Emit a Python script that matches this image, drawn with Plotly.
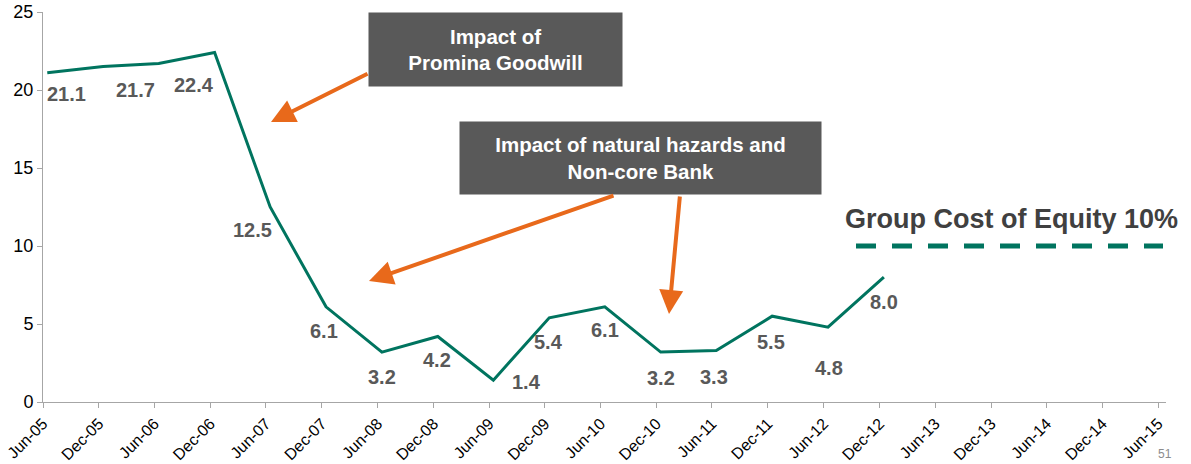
import plotly.graph_objects as go

tick_dates = ["2005-06-01", "2005-12-01", "2006-06-01", "2006-12-01", "2007-06-01", "2007-12-01",
              "2008-06-01", "2008-12-01", "2009-06-01", "2009-12-01", "2010-06-01", "2010-12-01",
              "2011-06-01", "2011-12-01", "2012-06-01", "2012-12-01", "2013-06-01", "2013-12-01",
              "2014-06-01", "2014-12-01", "2015-06-01"]
tick_labels = ["Jun-05", "Dec-05", "Jun-06", "Dec-06", "Jun-07", "Dec-07", "Jun-08", "Dec-08",
               "Jun-09", "Dec-09", "Jun-10", "Dec-10", "Jun-11", "Dec-11", "Jun-12", "Dec-12",
               "Jun-13", "Dec-13", "Jun-14", "Dec-14", "Jun-15"]
period_dates = ["2005-06-15", "2005-12-15", "2006-06-15", "2006-12-15", "2007-06-15", "2007-12-15",
                "2008-06-15", "2008-12-15", "2009-06-15", "2009-12-15", "2010-06-15", "2010-12-15",
                "2011-06-15", "2011-12-15", "2012-06-15", "2012-12-15"]
roe_values = [21.1, 21.5, 21.7, 22.4, 12.5, 6.1, 3.2, 4.2, 1.4, 5.4, 6.1, 3.2, 3.3, 5.5, 4.8, 8.0]
label_text = ["21.1", "", "21.7", "22.4", "12.5", "6.1", "3.2", "4.2", "1.4", "5.4", "6.1",
              "3.2", "3.3", "5.5", "4.8", "8.0"]
cost_of_equity = 10

TEAL = "#00745F"
ORANGE = "#E8691B"
BOX = "#595959"
LABEL = "#595959"
FONT = "Liberation Sans, Arial, sans-serif"

label_shift = [(19, -21), (0, 0), (-23, -27), (-21, -32), (-18, -23), (-2, -24), (0, -25),
               (-1, -24), (33, -2), (-1, -24), (0, -23), (0, -26), (-2, -26), (-1, -26),
               (1, -41), (0, -25)]

W, H = 1191, 464
L, R, T, B = 43, 25, 12, 62
pw, ph = W - L - R, H - T - B


def px(x):
    return (x - L) / pw


def py(y):
    return 1 - (y - T) / ph


fig = go.Figure()
fig.add_trace(go.Scatter(x=period_dates, y=roe_values, mode="lines",
                         line=dict(color=TEAL, width=3), hoverinfo="skip", showlegend=False))

for d, v, t, (dx, dy) in zip(period_dates, roe_values, label_text, label_shift):
    if t:
        fig.add_annotation(x=d, y=v, text="<b>%s</b>" % t, showarrow=False, xshift=dx, yshift=dy,
                           xanchor="center", yanchor="middle",
                           font=dict(family=FONT, size=20, color=LABEL))

# cost of equity dashed line
fig.add_shape(type="line", xref="paper", yref="y", x0=px(856), x1=px(1163),
              y0=cost_of_equity, y1=cost_of_equity,
              line=dict(color=TEAL, width=5, dash="20px,16px"))
fig.add_annotation(xref="paper", yref="y", x=px(1011), y=cost_of_equity, yshift=27,
                   xanchor="center", yanchor="middle",
                   text="<b>Group Cost of Equity %d%%</b>" % cost_of_equity, showarrow=False,
                   font=dict(family=FONT, size=27, color="#404040"))

# callout boxes
fig.add_annotation(xref="paper", yref="paper", x=px(495.5), y=py(49.5),
                   xanchor="center", yanchor="middle",
                   text="<b>Impact of<br>Promina Goodwill</b>", showarrow=False,
                   bgcolor=BOX, width=253, height=73, borderpad=0,
                   font=dict(family=FONT, size=20.5, color="white"))
fig.add_annotation(xref="paper", yref="paper", x=px(640.5), y=py(158),
                   xanchor="center", yanchor="middle",
                   text="<b>Impact of natural hazards and<br>Non-core Bank</b>", showarrow=False,
                   bgcolor=BOX, width=361, height=72, borderpad=0,
                   font=dict(family=FONT, size=20.5, color="white"))

# arrows (tail -> head, in pixels)
arrows = [((369, 73), (271, 122)), ((615, 195), (369, 281)), ((680, 195), (669, 314))]
for (x0, y0), (x1, y1) in arrows:
    fig.add_annotation(xref="paper", yref="paper", x=px(x1), y=py(y1),
                       ax=x0 - x1, ay=y0 - y1, axref="pixel", ayref="pixel",
                       text="", showarrow=True, arrowhead=2, arrowsize=1.2, arrowwidth=4,
                       arrowcolor=ORANGE, standoff=0)

fig.add_annotation(xref="paper", yref="paper", x=px(1165), y=py(454),
                   xanchor="center", yanchor="middle",
                   text="51", showarrow=False, font=dict(family=FONT, size=12, color="#8C8C8C"))

fig.update_layout(
    width=W, height=H, margin=dict(l=L, r=R, t=T, b=B),
    paper_bgcolor="white", plot_bgcolor="white",
    font=dict(family=FONT, size=15, color="#000000"),
    xaxis=dict(type="date", range=["2005-06-01", "2015-06-27"], tickmode="array",
               tickvals=tick_dates, ticktext=tick_labels, tickangle=-45, showgrid=False,
               showline=True, linecolor="#A6A6A6", linewidth=1, ticks="outside", ticklen=5,
               tickcolor="#A6A6A6", tickfont=dict(size=16), zeroline=False, automargin=False),
    yaxis=dict(range=[0, 25], tickvals=[0, 5, 10, 15, 20, 25], showgrid=False, showline=True,
               linecolor="#A6A6A6", linewidth=1, ticks="outside", ticklen=5,
               tickcolor="#A6A6A6", tickfont=dict(size=18), zeroline=False, automargin=False),
)

fig.write_html("out.html")
